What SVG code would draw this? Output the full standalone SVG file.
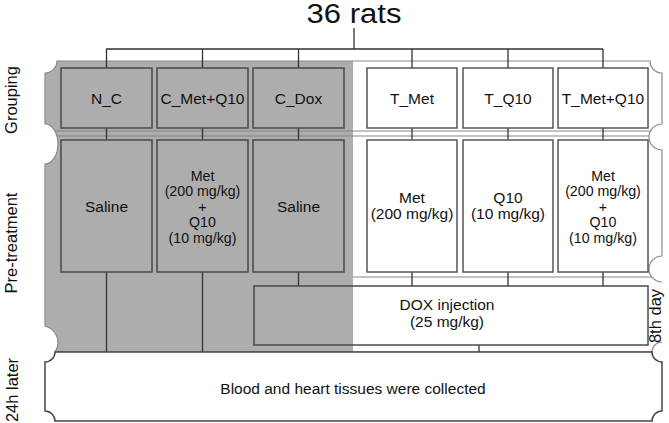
<svg xmlns="http://www.w3.org/2000/svg" width="669" height="423" viewBox="0 0 669 423">
<style>
text{font-family:"Liberation Sans",Arial,sans-serif;fill:#111;}
.t{font-size:15.5px;text-anchor:middle}
.s{font-size:14.2px;text-anchor:middle}
.lab{font-size:16.5px;text-anchor:middle}
.gbox{fill:none;stroke:#4a4a4a;stroke-width:1.5}
.wbox{fill:#fff;stroke:#555;stroke-width:1.5}
.conn{stroke:#333;stroke-width:1.3;fill:none}
.thin{stroke:#858585;stroke-width:1;fill:none}
</style>
<defs>
<clipPath id="bandclip"><path d="M57,61 H650 A12,12 0 0 0 662,73 V124 A13,13 0 0 0 662,150 V256 A13,13 0 0 0 662,282 V342 A10,10 0 0 0 652,352 H55 A17,17 0 0 0 45,326 V164 A13,20 0 0 0 45,124 V73 A12,12 0 0 0 57,61 Z"/></clipPath>
</defs>
<rect width="669" height="423" fill="#fff"/>
<g id="band-main">
<path d="M57,61 H650 A12,12 0 0 0 662,73 V124 A13,13 0 0 0 662,150 V256 A13,13 0 0 0 662,282 V342 A10,10 0 0 0 652,352 H55 A17,17 0 0 0 45,326 V164 A13,20 0 0 0 45,124 V73 A12,12 0 0 0 57,61 Z" fill="#fff"/>
<rect x="45" y="61" width="308" height="291" fill="#adadad" clip-path="url(#bandclip)"/>
<g clip-path="url(#bandclip)">
<path class="thin" d="M40,131 H665 M40,136 H665 M353,277 H665"/>
</g>
<path d="M662,342 A10,10 0 0 0 652,352 H55 A17,17 0 0 0 45,326 V164 A13,20 0 0 0 45,124 V73 A12,12 0 0 0 57,61 H650 A12,12 0 0 0 662,73 V124 A13,13 0 0 0 662,150 V256 A13,13 0 0 0 662,282" fill="none" stroke="#8a8a8a" stroke-width="1.2"/>
</g>
<g id="band-bottom">
<path d="M55,352 H652 A10,10 0 0 0 662,362 V411 A10,10 0 0 0 652,421 H55 A10,10 0 0 0 45,411 V362 A10,10 0 0 0 55,352 Z" fill="#fff" stroke="#444" stroke-width="1.5"/>
<text class="t" x="353" y="394">Blood and heart tissues were collected</text>
</g>
<g id="connectors">
<path class="conn" d="M354,28 V49 M106,49 H603 M106.5,49 V68 M202.5,49 V68 M298.5,49 V68 M412,49 V68 M508,49 V68 M603,49 V68"/>
<path class="conn" d="M106.5,128 V140 M202.5,128 V140 M298.5,128 V140 M412,128 V140 M508,128 V140 M603,128 V140"/>
<path class="conn" d="M106.5,272 V352 M202.5,272 V352 M298.5,272 V286 M412,272 V286 M508,272 V286 M603,272 V286 M479,345 V352"/>
</g>
<text x="354" y="23" font-size="27" text-anchor="middle" textLength="95" lengthAdjust="spacingAndGlyphs">36 rats</text>
<text class="lab" transform="translate(17,100) rotate(-90)">Grouping</text>
<text class="lab" transform="translate(17,243) rotate(-90)">Pre-treatment</text>
<text class="lab" transform="translate(18,390) rotate(-90)">24h later</text>
<text class="lab" font-size="15" transform="translate(661,316) rotate(-90)">8th day</text>
<g id="n_c"><rect class="gbox" x="61" y="68" width="91" height="60"/><text class="t" x="106.5" y="103.5">N_C</text></g>
<g id="c_met_q10"><rect class="gbox" x="157" y="68" width="91" height="60"/><text class="t" x="202.5" y="103.5">C_Met+Q10</text></g>
<g id="c_dox"><rect class="gbox" x="253" y="68" width="91" height="60"/><text class="t" x="298.5" y="103.5">C_Dox</text></g>
<g id="t_met"><rect class="wbox" x="367" y="68" width="90" height="60"/><text class="t" x="412" y="103.5">T_Met</text></g>
<g id="t_q10"><rect class="wbox" x="463" y="68" width="90" height="60"/><text class="t" x="508" y="103.5">T_Q10</text></g>
<g id="t_met_q10"><rect class="wbox" x="558" y="68" width="90" height="60"/><text class="t" x="603" y="103.5">T_Met+Q10</text></g>
<g id="pre_n_c"><rect class="gbox" x="61" y="140" width="91" height="132"/><text class="t" x="106.5" y="211.5">Saline</text></g>
<g id="pre_c_met_q10"><rect class="gbox" x="157" y="140" width="91" height="132"/>
<text class="s" x="202.5" y="180.5">Met</text><text class="s" x="202.5" y="196">(200 mg/kg)</text><text class="s" x="202.5" y="211.5">+</text><text class="s" x="202.5" y="227">Q10</text><text class="s" x="202.5" y="242.5">(10 mg/kg)</text></g>
<g id="pre_c_dox"><rect class="gbox" x="253" y="140" width="91" height="132"/><text class="t" x="298.5" y="211.5">Saline</text></g>
<g id="pre_t_met"><rect class="wbox" x="367" y="140" width="90" height="132"/><text class="t" x="412" y="202.5">Met</text><text class="t" x="412" y="219">(200 mg/kg)</text></g>
<g id="pre_t_q10"><rect class="wbox" x="463" y="140" width="90" height="132"/><text class="t" x="508" y="202.5">Q10</text><text class="t" x="508" y="219">(10 mg/kg)</text></g>
<g id="pre_t_met_q10"><rect class="wbox" x="558" y="140" width="90" height="132"/>
<text class="s" x="603" y="180.5">Met</text><text class="s" x="603" y="196">(200 mg/kg)</text><text class="s" x="603" y="211.5">+</text><text class="s" x="603" y="227">Q10</text><text class="s" x="603" y="242.5">(10 mg/kg)</text></g>
<g id="dox"><rect class="gbox" x="254" y="286" width="394" height="59"/><text class="t" x="447" y="310">DOX injection</text><text class="t" x="447" y="327">(25 mg/kg)</text></g>
</svg>
